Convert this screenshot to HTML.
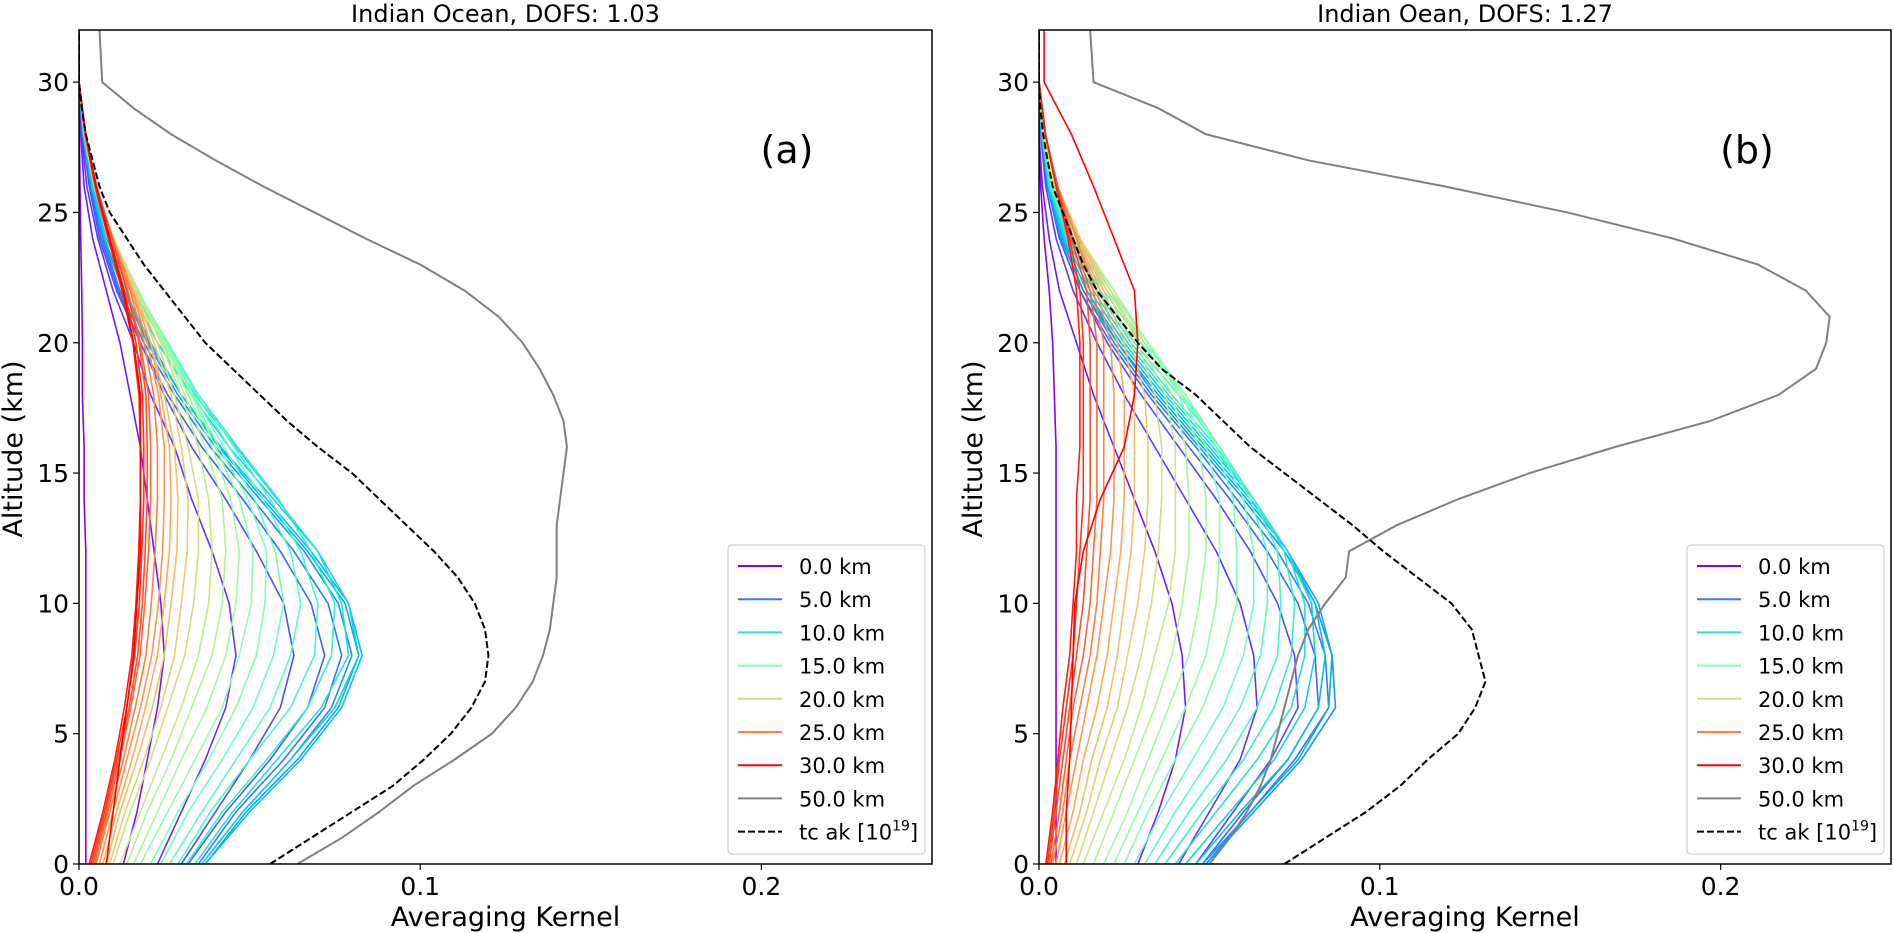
<!DOCTYPE html>
<html><head><meta charset="utf-8"><style>
html,body{margin:0;padding:0;background:#fff;}
svg{display:block;font-family:"DejaVu Sans","Liberation Sans",sans-serif;}
</style></head><body>
<svg id="chart" width="1894" height="933" viewBox="0 0 1894 933" xmlns="http://www.w3.org/2000/svg"></svg>
<script>
const altGrid2 = [0,2,4,6,8,10,12,14,16,18,20,22,24,26,28,30,32];
const altGrid1 = [0,1,2,3,4,5,6,7,8,9,10,11,12,13,14,15,16,17,18,19,20,21,22,23,24,25,26,27,28,29,30,31,32];
const xTicks = [0, 0.1, 0.2];
const xTickLabels = ["0.0","0.1","0.2"];
const yTicks = [0,5,10,15,20,25,30];
const legendLevels = [0,5,10,15,20,25,30];
const legendLabels = ["0.0 km","5.0 km","10.0 km","15.0 km","20.0 km","25.0 km","30.0 km","50.0 km"];
const titles = ["Indian Ocean, DOFS: 1.03","Indian Oean, DOFS: 1.27"];
const panelLetters = ["(a)","(b)"];

const kernelsA = [
[.002,.002,.002,.002,.002,.002,.002,.0015,.0015,.001,.001,.0008,.0005,.0003,.0001,0,0],
[.013,.017,.020,.023,.025,.024,.022,.020,.018,.015,.012,.008,.004,.0015,.0005,0,0],
[.023,.030,.037,.043,.046,.044,.039,.033,.028,.021,.016,.010,.0055,.0023,.0007,0,0],
[.030,.040,.050,.059,.063,.060,.052,.043,.033,.025,.018,.011,.006,.003,.001,0,0],
[.032,.043,.056,.067,.072,.068,.059,.048,.036,.026,.018,.0115,.0065,.0032,.0011,0,0],
[.035,.046,.060,.072,.077,.073,.063,.051,.0385,.028,.019,.012,.007,.0035,.0012,0,0],
[.036,.048,.062,.074,.080,.076,.066,.053,.040,.029,.020,.013,.0072,.0036,.0012,0,0],
[.037,.049,.064,.076,.082,.078,.067,.054,.041,.030,.0205,.013,.0074,.0037,.0012,0,0],
[.037,.050,.065,.077,.083,.079,.068,.055,.0415,.030,.021,.0133,.0075,.0037,.0012,0,0],
[.036,.048,.062,.075,.082,.079,.070,.057,.044,.033,.023,.015,.008,.004,.0014,0,0],
[.034,.045,.058,.071,.079,.077,.070,.058,.046,.034,.0245,.016,.0087,.0043,.0014,0,0],
[.0315,.042,.055,.067,.074,.075,.068,.0585,.0465,.035,.0255,.0165,.009,.0045,.0015,0,0],
[.029,.0385,.050,.062,.069,.070,.065,.056,.0455,.035,.026,.017,.009,.0045,.0015,0,0],
[.0265,.036,.046,.056,.062,.065,.062,.054,.044,.0345,.026,.017,.009,.0045,.0016,0,0],
[.024,.032,.042,.051,.057,.060,.0575,.0515,.0425,.0335,.026,.017,.0095,.0045,.0016,0,0],
[.021,.029,.038,.046,.052,.0545,.055,.0495,.041,.033,.025,.017,.0094,.0044,.0015,0,0],
[.018,.026,.034,.042,.047,.0505,.051,.047,.040,.033,.0255,.017,.0097,.0046,.0015,0,0],
[.016,.023,.030,.0375,.043,.046,.047,.0445,.039,.032,.025,.0175,.010,.0047,.0016,0,0],
[.014,.020,.027,.033,.039,.042,.043,.042,.037,.031,.0245,.017,.010,.0047,.0015,0,0],
[.012,.018,.024,.030,.035,.038,.039,.038,.035,.030,.024,.017,.010,.0047,.0016,0,0],
[.010,.015,.021,.026,.031,.0336,.035,.035,.032,.028,.023,.0165,.0098,.0046,.0016,0,0],
[.009,.0135,.019,.024,.028,.030,.0317,.032,.030,.027,.022,.0163,.010,.0048,.0016,0,0],
[.008,.012,.017,.0215,.025,.027,.0287,.029,.028,.025,.021,.016,.010,.0046,.0016,0,0],
[.007,.011,.0155,.0195,.023,.025,.0265,.027,.0265,.024,.021,.0157,.010,.0049,.0016,0,0],
[.006,.010,.014,.018,.0213,.0233,.0245,.025,.025,.0233,.020,.0155,.010,.005,.0018,0,0],
[.005,.009,.013,.0165,.0196,.0212,.0223,.023,.023,.0219,.0191,.015,.0099,.0051,.0018,0,0],
[.0045,.0085,.012,.0152,.0179,.0193,.0204,.021,.021,.0204,.018,.0143,.0097,.005,.0019,0,0],
[.004,.008,.0115,.0147,.0172,.0186,.0194,.020,.020,.0196,.0176,.014,.0096,.0052,.002,0,0],
[.0035,.0075,.011,.014,.0163,.0177,.0184,.019,.019,.0186,.0167,.0133,.0091,.0049,.0019,0,0],
[.003,.007,.0105,.0133,.0155,.0167,.0175,.018,.018,.0176,.0158,.0126,.0086,.0047,.0018,0,0],
[.008,.010,.012,.014,.016,.017,.018,.018,.018,.018,.016,.013,.009,.005,.002,0,0]
];
const grayA = [.064,.077,.088,.098,.110,.121,.128,.133,.136,.138,.139,.140,.140,.140,.141,.142,.143,.142,.139,.135,.130,.123,.113,.100,.084,.069,.054,.040,.027,.016,.0068,.0064,.006];
const dashedA = [.056,.068,.080,.092,.101,.109,.115,.119,.120,.119,.116,.111,.104,.096,.088,.080,.070,.061,.053,.045,.037,.031,.025,.019,.014,.009,.006,.004,.002,.0008,0,0,0];

const kernelsB = [
[.005,.005,.005,.005,.005,.005,.005,.005,.005,.0045,.004,.003,.0015,.0005,0,0,0],
[.029,.035,.040,.043,.042,.039,.034,.028,.022,.016,.011,.006,.003,.001,0,0,0],
[.041,.050,.059,.064,.063,.059,.052,.043,.034,.025,.017,.010,.005,.002,.0005,0,0],
[.046,.057,.068,.076,.075,.070,.062,.052,.041,.030,.020,.012,.006,.0025,.0007,0,0],
[.048,.060,.073,.082,.081,.076,.067,.056,.044,.032,.021,.012,.006,.0025,.0007,0,0],
[.049,.062,.075,.085,.084,.079,.070,.058,.046,.033,.022,.013,.0065,.0025,.0007,0,0],
[.049,.063,.077,.087,.086,.081,.072,.060,.047,.034,.023,.013,.0065,.0025,.0007,0,0],
[.048,.062,.076,.085,.086,.082,.073,.061,.048,.035,.023,.014,.007,.0027,.0008,0,0],
[.046,.059,.073,.082,.084,.081,.073,.062,.049,.036,.024,.014,.007,.0028,.0008,0,0],
[.043,.056,.069,.078,.081,.080,.073,.063,.050,.037,.025,.015,.0075,.003,.0008,0,0],
[.040,.052,.064,.074,.078,.078,.073,.063,.051,.038,.026,.016,.008,.003,.0009,0,0],
[.037,.048,.060,.069,.074,.075,.072,.063,.052,.039,.027,.017,.0085,.0033,.001,0,0],
[.034,.044,.055,.064,.070,.071,.070,.063,.053,.041,.028,.018,.009,.0035,.001,0,0],
[.031,.040,.050,.059,.065,.067,.067,.062,.053,.042,.030,.019,.0095,.0037,.001,0,0],
[.028,.036,.045,.054,.060,.063,.063,.060,.053,.043,.031,.020,.010,.004,.0011,0,0],
[.025,.032,.040,.048,.054,.058,.058,.057,.052,.043,.032,.021,.011,.0042,.0012,0,0],
[.022,.029,.036,.043,.049,.052,.053,.053,.049,.042,.032,.021,.011,.0045,.0013,0,0],
[.019,.026,.032,.038,.044,.047,.049,.049,.047,.041,.032,.022,.0115,.0047,.0014,0,0],
[.016,.022,.028,.034,.039,.042,.044,.044,.043,.039,.031,.022,.012,.005,.0015,0,0],
[.013,.019,.025,.030,.034,.038,.040,.040,.040,.037,.030,.021,.012,.005,.0015,0,0],
[.011,.016,.021,.026,.030,.033,.035,.036,.036,.034,.029,.021,.012,.0052,.0016,0,0],
[.009,.014,.018,.023,.026,.029,.031,.032,.032,.031,.027,.020,.012,.0054,.0017,0,0],
[.0075,.012,.0155,.020,.023,.025,.027,.028,.028,.028,.025,.019,.012,.0055,.0017,0,0],
[.006,.010,.013,.017,.020,.022,.024,.025,.025,.025,.023,.018,.0115,.0055,.0018,0,0],
[.005,.008,.011,.014,.017,.019,.021,.022,.022,.022,.021,.017,.011,.0055,.0018,0,0],
[.004,.007,.009,.012,.015,.017,.018,.019,.019,.019,.019,.016,.011,.0055,.0018,0,0],
[.0035,.006,.008,.010,.013,.015,.016,.017,.017,.017,.017,.015,.010,.0055,.0019,0,0],
[.003,.005,.007,.009,.011,.013,.014,.015,.015,.015,.015,.014,.0095,.0053,.0019,0,0],
[.0025,.0045,.006,.008,.010,.011,.012,.013,.013,.013,.013,.012,.009,.005,.0019,0,0],
[.002,.004,.0055,.007,.009,.010,.011,.011,.012,.012,.012,.011,.0085,.005,.0019,0,0],
[.008,.008,.009,.0095,.010,.0105,.013,.018,.025,.028,.029,.028,.022,.016,.0095,.0015,.0015]
];
const grayB = [.050,.056,.061,.065,.068,.070,.072,.074,.076,.079,.084,.090,.091,.105,.123,.144,.169,.197,.217,.228,.231,.232,.225,.211,.186,.155,.119,.079,.049,.035,.016,.0155,.015];
const dashedB = [.072,.084,.096,.106,.114,.123,.128,.131,.129,.127,.121,.111,.101,.092,.082,.072,.062,.054,.046,.036,.029,.023,.017,.013,.010,.007,.004,.0025,.0012,.0004,0,0,0];

const NS = "http://www.w3.org/2000/svg";
const svg = document.getElementById("chart");
function mk(tag, attrs, parent) {
  const e = document.createElementNS(NS, tag);
  for (const k in attrs) e.setAttribute(k, attrs[k]);
  (parent || svg).appendChild(e);
  return e;
}
function rainbow(t) {
  let r = Math.min(1, Math.max(0, Math.abs(2*t - 0.5)));
  let g = Math.sin(Math.PI*t);
  let b = Math.cos(Math.PI*t/2);
  return "rgb(" + Math.round(r*255) + "," + Math.round(Math.max(0,g)*255) + "," + Math.round(Math.max(0,b)*255) + ")";
}
const TOP = 30, BOT = 864, XMAX = 0.25, YMAX = 32;

function drawPanel(idx, x0, x1, kernels, gray, dashed) {
  const W = x1 - x0;
  const xs = v => x0 + v / XMAX * W;
  const ys = a => BOT - a / YMAX * (BOT - TOP);
  const g = mk("g", {});
  
  
  const clipId = "clip" + idx;
  const cp = mk("clipPath", {id: clipId}, g);
  mk("rect", {x: x0, y: TOP, width: W, height: BOT - TOP}, cp);
  const plot = mk("g", {"clip-path": "url(#" + clipId + ")"}, g);
  kernels.forEach((vals, lvl) => {
    const pts = vals.map((v, i) => xs(v).toFixed(2) + "," + ys(altGrid2[i]).toFixed(2)).join(" ");
    const pl = mk("polyline", {points: pts, fill: "none", stroke: rainbow(lvl/30), "stroke-width": 1.6, "stroke-linejoin": "round"}, plot);
    
    
  });
  const gp = gray.map((v, i) => xs(v).toFixed(2) + "," + ys(altGrid1[i]).toFixed(2)).join(" ");
  const gl = mk("polyline", {points: gp, fill: "none", stroke: "#808080", "stroke-width": 2}, plot);
  
  
  const dp = dashed.map((v, i) => xs(v).toFixed(2) + "," + ys(altGrid1[i]).toFixed(2)).join(" ");
  const dl = mk("polyline", {points: dp, fill: "none", stroke: "#000", "stroke-width": 2, "stroke-dasharray": "7,3"}, plot);
  
  

  const frame = mk("rect", {x: x0, y: TOP, width: W, height: BOT - TOP, fill: "none", stroke: "#000", "stroke-width": 1.5}, g);
  
  

  xTicks.forEach((t, i) => {
    const x = xs(t);
    mk("line", {x1: x, x2: x, y1: BOT, y2: BOT + 6, stroke: "#000", "stroke-width": 1.2}, g);
    const tx = mk("text", {x: x, y: 895, "text-anchor": "middle", "font-size": 25, fill: "#000"}, g);
    tx.textContent = xTickLabels[i];
    
    
  });
  yTicks.forEach(t => {
    const y = ys(t);
    mk("line", {x1: x0 - 6, x2: x0, y1: y, y2: y, stroke: "#000", "stroke-width": 1.2}, g);
    const tx = mk("text", {x: x0 - 10, y: y + 9, "text-anchor": "end", "font-size": 25, fill: "#000"}, g);
    tx.textContent = String(t);
    
    
  });
  const xl = mk("text", {x: (x0 + x1)/2, y: 926, "text-anchor": "middle", "font-size": 27, fill: "#000"}, g);
  xl.textContent = "Averaging Kernel";
  
  
  const ylx = x0 - 57, yly = 449;
  const yl = mk("text", {x: ylx, y: yly, "text-anchor": "middle", "font-size": 27, fill: "#000", transform: "rotate(-90 " + ylx + " " + yly + ")"}, g);
  yl.textContent = "Altitude (km)";
  
  
  const ti = mk("text", {x: (x0 + x1)/2, y: 22, "text-anchor": "middle", "font-size": 24, fill: "#000"}, g);
  ti.textContent = titles[idx];
  
  
  const pl = mk("text", {x: x0 + 708, y: 163, "text-anchor": "middle", "font-size": 38, fill: "#000"}, g);
  pl.textContent = panelLetters[idx];
  
  

  // legend
  const lx = x1 - 204, ly = 545, lw = 197, lh = 309;
  const lg = mk("g", {}, g);
  
  
  mk("rect", {x: lx, y: ly, width: lw, height: lh, rx: 4, fill: "#fff", "fill-opacity": 0.85, stroke: "#d0d0d0", "stroke-width": 1.2}, lg);
  for (let i = 0; i < 9; i++) {
    const y = 566 + i * 33.2;
    const ent = mk("g", {}, lg);
    
    
    let stroke, dash = null;
    if (i < 7) stroke = rainbow(legendLevels[i]/30);
    else if (i === 7) stroke = "#808080";
    else { stroke = "#000"; dash = "7,3"; }
    const ln = mk("line", {x1: lx + 10, x2: lx + 54, y1: y, y2: y, stroke: stroke, "stroke-width": 2}, ent);
    if (dash) ln.setAttribute("stroke-dasharray", dash);
    const tx = mk("text", {x: lx + 71, y: y + 8, "font-size": 21, fill: "#000"}, ent);
    if (i < 8) tx.textContent = legendLabels[i];
    else {
      tx.textContent = "tc ak [10";
      const sup = mk("tspan", {"font-size": 14, dy: -9}, tx);
      sup.textContent = "19";
      const rest = mk("tspan", {dy: 9}, tx);
      rest.textContent = "]";
    }
  }
}
drawPanel(0, 79, 932, kernelsA, grayA, dashedA);
drawPanel(1, 1039, 1891, kernelsB, grayB, dashedB);
</script>
</body></html>
